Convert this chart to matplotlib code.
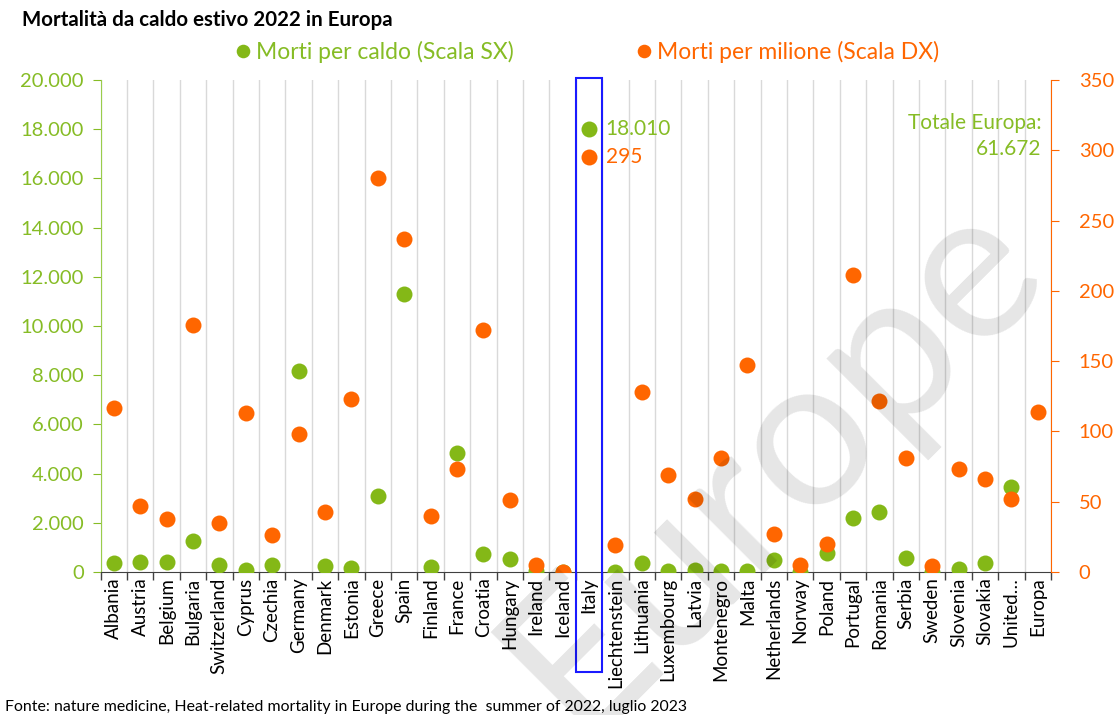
import numpy as np
import matplotlib
matplotlib.use("Agg")
import matplotlib.pyplot as plt
from matplotlib.ticker import FuncFormatter, MultipleLocator
from matplotlib.patches import Rectangle
import matplotlib.transforms as mtransforms

plt.rcParams['font.family'] = ['Lato', 'DejaVu Sans']

# dati
paesi = ['Albania', 'Austria', 'Belgium', 'Bulgaria', 'Switzerland', 'Cyprus',
         'Czechia', 'Germany', 'Denmark', 'Estonia', 'Greece', 'Spain',
         'Finland', 'France', 'Croatia', 'Hungary', 'Ireland', 'Iceland',
         'Italy', 'Liechtenstein', 'Lithuania', 'Luxembourg', 'Latvia',
         'Montenegro', 'Malta', 'Netherlands', 'Norway', 'Poland', 'Portugal',
         'Romania', 'Serbia', 'Sweden', 'Slovenia', 'Slovakia', 'United…',
         'Europa']

morti_caldo = [360, 420, 420, 1260, 290, 80, 290, 8170, 250, 150, 3090, 11320,
               220, 4820, 720, 520, 50, 5, 18010, 10, 380, 40, 80, 30, 50, 480,
               20, 760, 2200, 2450, 560, 20, 140, 370, 3470, np.nan]

morti_milione = [117, 47, 38, 176, 35, 113, 26, 98, 43, 123, 280, 237, 40, 73,
                 172, 51, 5, 0, 295, 19, 128, 69, 52, 81, 147, 27, 5, 20, 211,
                 122, 81, 4, 73, 66, 52, 114]

totale_europa = 61672
idx_italia = paesi.index('Italy')

verde = '#84B817'
arancio = '#FF6600'
verde_testo = '#86BC25'


def fmt_it(v, pos=None):
    return f'{v:,.0f}'.replace(',', '.')


fig = plt.figure(figsize=(11.15, 7.15), dpi=100)
ax = fig.add_axes([100.5 / 1115, 1 - 572 / 715, 950.5 / 1115, 492 / 715])
ax2 = ax.twinx()

x = np.arange(len(paesi))
l1, = ax.plot(x, morti_caldo, 'o', color=verde, markersize=11.5, mew=0,
              label='Morti per caldo (Scala SX)', zorder=3)
l2, = ax2.plot(x, morti_milione, 'o', color=arancio, markersize=11.5, mew=0,
               label='Morti per milione (Scala DX)', zorder=3)

ax.set_xlim(-0.5, len(paesi) - 0.5)
ax.set_ylim(0, 20000)
ax2.set_ylim(0, 350)
ax.yaxis.set_major_locator(MultipleLocator(2000))
ax2.yaxis.set_major_locator(MultipleLocator(50))
ax.yaxis.set_major_formatter(FuncFormatter(fmt_it))

ax.set_xticks(x)
ax.set_xticklabels(paesi, rotation=90, fontsize=13.5)
ax.set_xticks(np.arange(-0.5, len(paesi), 1), minor=True)
ax.tick_params(axis='x', which='major', length=0, pad=4)
ax.tick_params(axis='x', which='minor', length=6, color='#404040', width=1)
ax.grid(axis='x', which='minor', color='#d9d9d9', lw=1)
ax.set_axisbelow(True)

ax.tick_params(axis='y', colors=verde_testo, labelsize=14.5, length=6,
               direction='out', pad=6)
ax2.tick_params(axis='y', colors=arancio, labelsize=14.5, length=6,
                direction='out', pad=14)

for a in (ax, ax2):
    a.spines['top'].set_visible(False)
ax.spines['left'].set_color('#9ACD4B')
ax.spines['bottom'].set_color('#404040')
ax2.spines['left'].set_visible(False)
ax2.spines['bottom'].set_visible(False)
ax2.spines['right'].set_color(arancio)
ax.spines['right'].set_visible(False)

# riquadro blu attorno all'Italia
trans = mtransforms.blended_transform_factory(ax.transData, ax.transAxes)
ax.add_patch(Rectangle((idx_italia - 0.5, -0.203), 1, 1.207, transform=trans,
                       fill=False, edgecolor='#1a1aff', lw=1.5,
                       clip_on=False, zorder=5))

ax.annotate(fmt_it(morti_caldo[idx_italia]), (idx_italia, morti_caldo[idx_italia]),
            xytext=(12, 0), textcoords='offset points', va='center',
            color=verde_testo, fontsize=15)
ax2.annotate(fmt_it(morti_milione[idx_italia]), (idx_italia, morti_milione[idx_italia]),
             xytext=(12, 0), textcoords='offset points', va='center',
             color=arancio, fontsize=15)

ax.text(0.9895, 0.886, 'Totale Europa:\n' + fmt_it(totale_europa),
        transform=ax.transAxes, ha='right', va='center', color=verde_testo,
        fontsize=15, linespacing=1.35)

leg = ax.legend(handles=[l1, l2], loc='center', bbox_to_anchor=(0.51, 1.056),
                ncol=2, frameon=False, fontsize=16.5, handletextpad=0.05,
                columnspacing=5.2, handlelength=1, markerscale=0.85,
                labelcolor=[verde_testo, arancio])

fig.text(22 / 1115, 1 - 20 / 715, 'Mortalità da caldo estivo 2022 in Europa',
         fontsize=14.8, fontweight='bold', va='center')
fig.text(5 / 1115, 1 - 707 / 715,
         'Fonte: nature medicine, Heat-related mortality in Europe during the  summer of 2022, luglio 2023',
         fontsize=11.4, va='center')

# filigrana
fig.text(772 / 1115, 1 - 462 / 715, 'Europe', rotation=45, fontsize=152,
         color='black', alpha=0.1, ha='center', va='center',
         rotation_mode='anchor', zorder=10)

fig.savefig('out.png', dpi=100)
